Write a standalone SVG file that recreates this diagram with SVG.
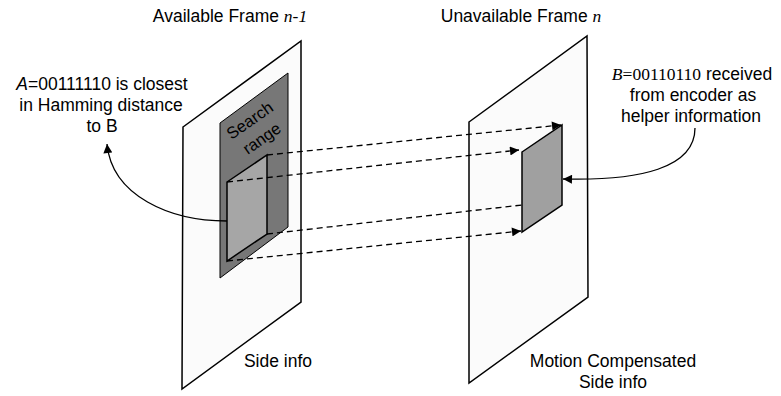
<svg xmlns="http://www.w3.org/2000/svg" width="781" height="396" viewBox="0 0 781 396">
  <defs>
    <marker id="head" viewBox="0 0 10 10" refX="10" refY="5" markerWidth="11" markerHeight="9" markerUnits="userSpaceOnUse" orient="auto">
      <path d="M0,0 L10,5 L0,10 Z" fill="#000"/>
    </marker>
  </defs>
  <style>
    .frame { fill: #fbfbfb; stroke: #000; stroke-width: 1.5; }
    .range { fill: #777777; stroke: #000; stroke-width: 1; }
    .block { fill: #a6a6a6; stroke: #000; stroke-width: 1.5; }
    .label { font-family: "Liberation Sans", Arial, sans-serif; font-size: 17.5px; fill: #000; }
    .ital { font-style: italic; }
    .var { font-family: "Liberation Serif", "Times New Roman", serif; font-style: italic; }
    .serif { font-family: "Liberation Serif", "Times New Roman", serif; }
    .dash { fill: none; stroke: #000; stroke-width: 1.3; stroke-dasharray: 6 4; }
    .curve { fill: none; stroke: #000; stroke-width: 1.3; }
  </style>

  <!-- previous frame n-1 with its search range and candidate block -->
  <g id="frame-prev">
    <polygon class="frame" points="183,127 301,41 301,302 182,389"/>
    <text class="label" x="230" y="22" text-anchor="middle">Available Frame <tspan class="var">n-1</tspan></text>
    <text class="label" x="278" y="367" text-anchor="middle">Side info</text>
  </g>
  <g id="search-range">
    <polygon class="range" points="220,123 288,73 288,227 220,278"/>
    <g class="label" style="font-size:16.5px" text-anchor="middle">
      <text transform="translate(253,125) rotate(-35)">Search</text>
      <text transform="translate(265,143) rotate(-35)">range</text>
    </g>
  </g>
  <g id="block-a">
    <polygon class="block" points="227,182 267,155 267,234 227,261"/>
  </g>

  <!-- current frame n with the side-information block -->
  <g id="frame-cur">
    <polygon class="frame" points="469,122 587,36 588,297 469,383"/>
    <text class="label" x="521" y="22" text-anchor="middle">Unavailable Frame <tspan class="var">n</tspan></text>
    <text class="label" x="613" y="367" text-anchor="middle">Motion Compensated</text>
    <text class="label" x="613" y="388" text-anchor="middle">Side info</text>
  </g>
  <g id="block-b">
    <polygon class="block" style="fill:#a0a0a0" points="522,152 562,125 562,205 522,232"/>
  </g>

  <!-- annotations -->
  <g id="note-a" class="label" text-anchor="middle">
    <text x="102" y="90"><tspan class="ital">A</tspan>=00111110 is closest</text>
    <text x="101" y="111">in Hamming distance</text>
    <text x="102" y="132">to B</text>
  </g>
  <g id="note-b" class="label" text-anchor="middle">
    <text x="692" y="80"><tspan class="var">B</tspan><tspan class="serif">=00110110</tspan> received</text>
    <text x="693" y="101">from encoder as</text>
    <text x="691" y="122">helper information</text>
  </g>

  <!-- connectors -->
  <g id="connectors">
    <line class="dash" x1="267" y1="155" x2="561" y2="125" marker-end="url(#head)"/>
    <line class="dash" x1="227" y1="182" x2="519" y2="150" marker-end="url(#head)"/>
    <line class="dash" x1="267" y1="234" x2="522" y2="205"/>
    <line class="dash" x1="227" y1="261" x2="521" y2="231" marker-end="url(#head)"/>
    <path class="curve" d="M227,221 C170,221 112,196 107,144" marker-end="url(#head)"/>
    <path class="curve" d="M695,128 C695,168 640,181 563,179" marker-end="url(#head)"/>
  </g>
</svg>
